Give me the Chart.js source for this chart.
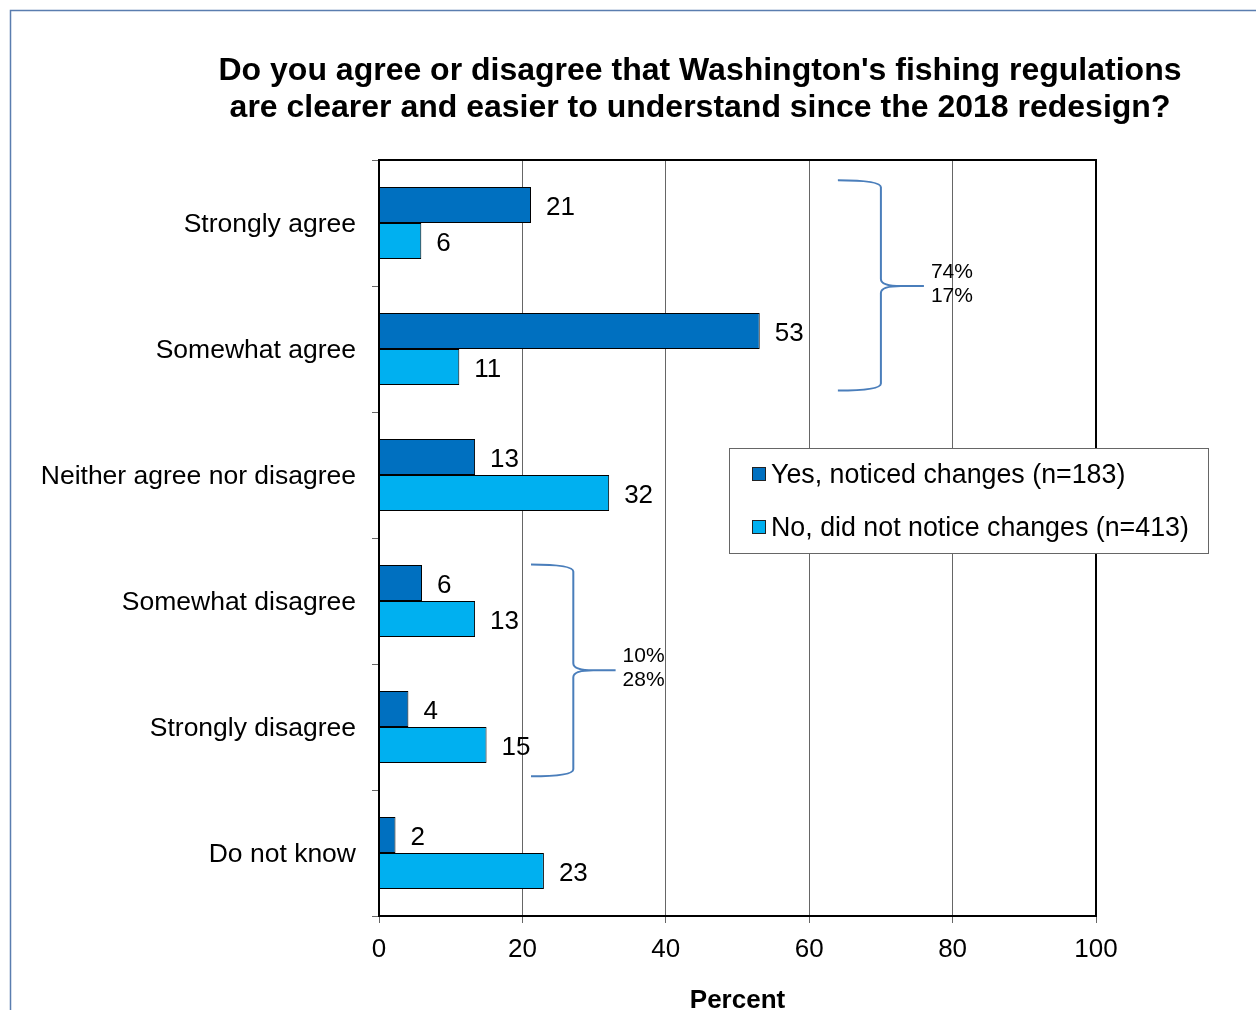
<!doctype html>
<html>
<head>
  <meta charset="utf-8">
  <script src="https://cdn.jsdelivr.net/npm/chart.js"></script>
  <style>
    body { margin: 0; background: #fff; }
    canvas { display: block; }
  </style>
</head>
<body>
  <canvas id="surveyChart" width="1256" height="1010"></canvas>
  <script>
    // data
    var categories = ['Strongly agree', 'Somewhat agree', 'Neither agree nor disagree', 'Somewhat disagree', 'Strongly disagree', 'Do not know'];
    var noticed = [21.2, 53.1, 13.4, 6.0, 4.1, 2.3];
    var notNoticed = [5.9, 11.2, 32.1, 13.4, 15.0, 23.0];
    var seriesNames = ['Yes, noticed changes (n=183)', 'No, did not notice changes (n=413)'];
    var xTicks = [0, 20, 40, 60, 80, 100];
    var agreeTotals = ['74%', '17%'];
    var disagreeTotals = ['10%', '28%'];
    var titleLines = ["Do you agree or disagree that Washington's fishing regulations", 'are clearer and easier to understand since the 2018 redesign?'];

    var FONT = "'Liberation Sans', Arial, sans-serif";

    // frame, title, plot border, value labels, braces, legend
    var decorPlugin = {
      id: 'decor',
      beforeDraw: function (chart) {
        var ctx = chart.ctx;
        ctx.save();
        ctx.fillStyle = '#fff';
        ctx.fillRect(0, 0, chart.width, chart.height);
        ctx.strokeStyle = '#5a7daf';
        ctx.lineWidth = 1.5;
        ctx.beginPath();
        ctx.moveTo(10.5, chart.height);
        ctx.lineTo(10.5, 10.5);
        ctx.lineTo(chart.width, 10.5);
        ctx.stroke();

        ctx.fillStyle = '#000';
        ctx.font = 'bold 32px ' + FONT;
        ctx.textAlign = 'center';
        ctx.textBaseline = 'middle';
        ctx.fillText(titleLines[0], 700, 71);
        ctx.fillText(titleLines[1], 700, 108);
        ctx.restore();
      },
      afterDatasetsDraw: function (chart) {
        var ctx = chart.ctx;
        var area = chart.chartArea;
        var xs = chart.scales.x;
        var ys = chart.scales.y;
        ctx.save();

        // value labels
        ctx.fillStyle = '#000';
        ctx.font = '26px ' + FONT;
        ctx.textAlign = 'left';
        ctx.textBaseline = 'middle';
        chart.data.datasets.forEach(function (ds, di) {
          chart.getDatasetMeta(di).data.forEach(function (bar, i) {
            ctx.fillText(Math.round(ds.data[i]), bar.x + 15, bar.y + 3);
          });
        });

        // plot border
        ctx.strokeStyle = '#000';
        ctx.lineWidth = 2;
        ctx.strokeRect(area.left, area.top, area.right - area.left, area.bottom - area.top);

        // braces
        function brace(x0, x1, x2, y0, y1, y2, labels) {
          var xo = xs.getPixelForValue(x0), xsp = xs.getPixelForValue(x1), xt = xs.getPixelForValue(x2);
          var yt = ys.getPixelForValue(y0), ym = ys.getPixelForValue(y1), yb = ys.getPixelForValue(y2);
          ctx.strokeStyle = '#4a7ebb';
          ctx.lineWidth = 2;
          ctx.beginPath();
          ctx.moveTo(xo, yt);
          ctx.quadraticCurveTo(xsp, yt, xsp, yt + 7);
          ctx.lineTo(xsp, ym - 7);
          ctx.quadraticCurveTo(xsp, ym, xsp + 20, ym);
          ctx.lineTo(xt, ym);
          ctx.moveTo(xsp + 20, ym);
          ctx.quadraticCurveTo(xsp, ym, xsp, ym + 7);
          ctx.lineTo(xsp, yb - 7);
          ctx.quadraticCurveTo(xsp, yb, xo, yb);
          ctx.stroke();
          ctx.fillStyle = '#000';
          ctx.font = '21px ' + FONT;
          ctx.textAlign = 'left';
          ctx.textBaseline = 'middle';
          ctx.fillText(labels[0], xt + 7, ym - 14);
          ctx.fillText(labels[1], xt + 7, ym + 10);
        }
        brace(64, 70, 76, -0.34, 0.5, 1.33, agreeTotals);
        brace(21.2, 27.1, 33, 2.71, 3.55, 4.39, disagreeTotals);

        // legend box
        var lx = area.left + 350, ly = area.top + 288, lw = 479, lh = 105;
        ctx.fillStyle = '#fff';
        ctx.fillRect(lx, ly, lw, lh);
        ctx.strokeStyle = '#666';
        ctx.lineWidth = 1;
        ctx.strokeRect(lx + 0.5, ly + 0.5, lw, lh);
        ctx.font = '26.8px ' + FONT;
        chart.data.datasets.forEach(function (ds, di) {
          var cy = ly + 26 + di * 53;
          ctx.fillStyle = ds.backgroundColor;
          ctx.fillRect(lx + 23, cy - 7, 13, 13);
          ctx.strokeStyle = '#222';
          ctx.strokeRect(lx + 23.5, cy - 6.5, 13, 13);
          ctx.fillStyle = '#000';
          ctx.fillText(ds.label, lx + 42, cy + 2);
        });
        ctx.restore();
      }
    };

    var ctx = document.getElementById('surveyChart').getContext('2d');
    var surveyChart = new Chart(ctx, {
      type: 'bar',
      data: {
        labels: categories,
        datasets: [{
          label: seriesNames[0],
          data: noticed,
          backgroundColor: '#0070c0',
          borderColor: '#000',
          borderWidth: 1,
          categoryPercentage: 0.571,
          barPercentage: 1.0
        }, {
          label: seriesNames[1],
          data: notNoticed,
          backgroundColor: '#00b0f0',
          borderColor: '#000',
          borderWidth: 1,
          categoryPercentage: 0.571,
          barPercentage: 1.0
        }]
      },
      options: {
        indexAxis: 'y',
        responsive: false,
        animation: false,
        events: [],
        layout: {
          padding: { left: 0, right: 160, top: 160, bottom: 0 }
        },
        plugins: {
          legend: { display: false },
          title: { display: false },
          tooltip: { enabled: false }
        },
        scales: {
          x: {
            min: 0,
            max: 100,
            afterBuildTicks: function (scale) {
              scale.ticks = xTicks.map(function (v) { return { value: v }; });
            },
            afterFit: function (scale) { scale.height = 94; },
            grid: { color: '#666', lineWidth: 1, tickLength: 7, drawTicks: true },
            border: { display: false },
            ticks: { color: '#000', padding: 11, font: { family: FONT, size: 26 } },
            title: {
              display: true,
              text: 'Percent',
              color: '#000',
              font: { family: FONT, size: 26, weight: 'bold', lineHeight: 0.7 },
              padding: { top: 0, bottom: 0 }
            }
          },
          y: {
            afterFit: function (scale) { scale.width = 379; },
            grid: { drawOnChartArea: false, color: '#666', tickLength: 7, offset: true },
            border: { display: false },
            ticks: { color: '#000', padding: 16, labelOffset: 2, font: { family: FONT, size: 26.5 } }
          }
        }
      },
      plugins: [decorPlugin]
    });
  </script>
</body>
</html>
